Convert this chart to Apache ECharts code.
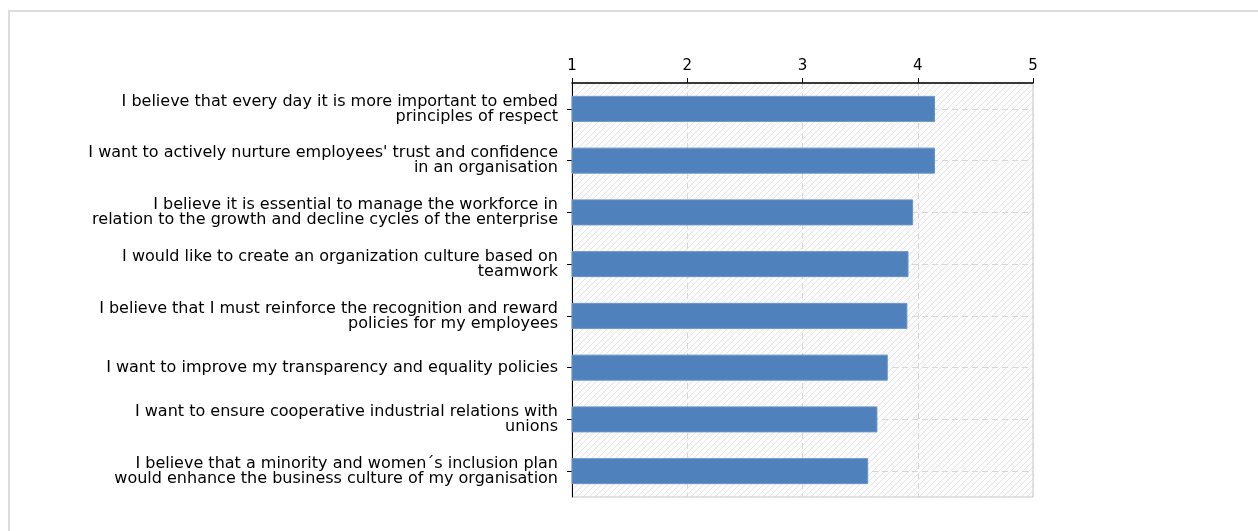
<!DOCTYPE html>
<html>
<head>
<meta charset="utf-8">
<script src="https://cdn.jsdelivr.net/npm/echarts@6/dist/echarts.min.js"></script>
<style>
html,body{margin:0;padding:0;background:#fff;}
#chart{width:1258px;height:531px;}
</style>
</head>
<body>
<div id="chart"></div>
<script>
var categories = [
  "I believe that every day it is more important to embed\nprinciples of respect",
  "I want to actively nurture employees' trust and confidence\nin an organisation",
  "I believe it is essential to manage the workforce in\nrelation to the growth and decline cycles of the enterprise",
  "I would like to create an organization culture based on\nteamwork",
  "I believe that I must reinforce the recognition and reward\npolicies for my employees",
  "I want to improve my transparency and equality policies",
  "I want to ensure cooperative industrial relations with\nunions",
  "I believe that a minority and women\u00b4s inclusion plan\nwould enhance the business culture of my organisation"
];
var values = [4.15, 4.15, 3.96, 3.92, 3.91, 3.74, 3.65, 3.57];
var axisMin = 1, axisMax = 5, axisStep = 1;

// hatched background pattern
var pc = document.createElement('canvas');
pc.width = 6; pc.height = 6;
var ctx = pc.getContext('2d');
ctx.fillStyle = '#fbfbfb';
ctx.fillRect(0, 0, 6, 6);
ctx.strokeStyle = '#e6e6e6';
ctx.lineWidth = 1;
ctx.beginPath();
ctx.moveTo(0, 6); ctx.lineTo(6, 0);
ctx.moveTo(-1, 1); ctx.lineTo(1, -1);
ctx.moveTo(5, 7); ctx.lineTo(7, 5);
ctx.stroke();

var chart = echarts.init(document.getElementById('chart'), null, {renderer: 'canvas'});
var font = 'DejaVu Sans, Verdana, sans-serif';
chart.setOption({
  backgroundColor: '#ffffff',
  animation: false,
  graphic: [{
    type: 'rect', z: -10, silent: true,
    shape: {x: 9, y: 11, width: 1300, height: 600},
    style: {fill: null, stroke: '#dcdcdc', lineWidth: 2}
  }],
  grid: {
    left: 572, right: 225, top: 83, bottom: 34,
    show: true,
    backgroundColor: {image: pc, repeat: 'repeat'},
    borderColor: '#c8c8c8', borderWidth: 1
  },
  xAxis: {
    type: 'value', position: 'top',
    min: axisMin, max: axisMax, interval: axisStep,
    axisLine: {show: true, lineStyle: {color: '#000', width: 1.5}},
    axisTick: {show: true, inside: false, length: 5, lineStyle: {color: '#000'}},
    axisLabel: {color: '#000', fontSize: 15, fontFamily: font, margin: 9},
    splitLine: {show: true, lineStyle: {color: '#d8d8d8', type: [6, 4], width: 1}}
  },
  yAxis: {
    type: 'category', inverse: true, data: categories,
    axisLine: {show: true, lineStyle: {color: '#000', width: 1}},
    axisTick: {show: true, alignWithLabel: true, length: 5, lineStyle: {color: '#000'}},
    axisLabel: {color: '#000', fontSize: 16, lineHeight: 15, fontFamily: font, margin: 14, align: 'right'},
    splitLine: {show: false}
  },
  series: [{
    type: 'bar', data: values, barWidth: 26,
    itemStyle: {color: '#4f81bd', borderColor: '#6a94c8', borderWidth: 1},
    markLine: {
      silent: true, z: 1, symbol: 'none', label: {show: false},
      lineStyle: {color: '#d8d8d8', type: [6, 4], width: 1},
      data: categories.map(function (c) { return {yAxis: c}; })
    }
  }]
});
</script>
</body>
</html>
